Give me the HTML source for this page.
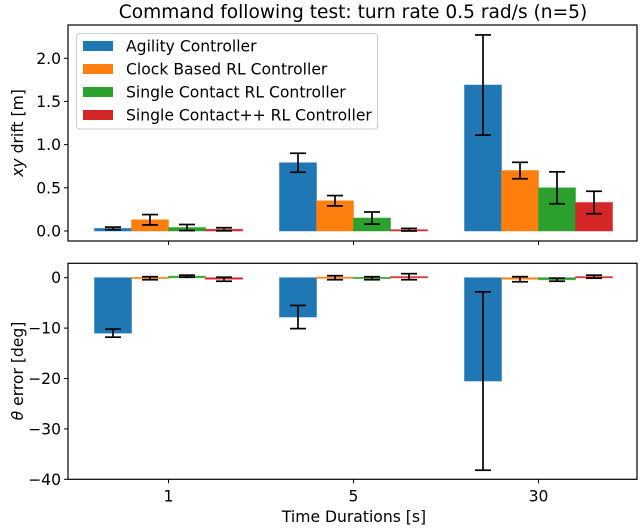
<!DOCTYPE html>
<html><head><meta charset="utf-8"><style>
html,body{margin:0;padding:0;background:#fff;}
svg text{font-family:"DejaVu Sans","Liberation Sans",sans-serif;fill:#000;}
</style></head><body>
<svg id="chart" width="640" height="527" xmlns="http://www.w3.org/2000/svg">
<text x="353" y="18" font-size="18.6" text-anchor="middle">Command following test: turn rate 0.5 rad/s (n=5)</text>
<g id="top"></g>
<g id="bot"></g>
<text x="354" y="522" font-size="15.6" text-anchor="middle">Time Durations [s]</text>
<text transform="translate(23,133) rotate(-90)" font-size="15.6" text-anchor="middle"><tspan font-style="italic">xy</tspan> drift [m]</text>
<text transform="translate(23,371) rotate(-90)" font-size="15.6" text-anchor="middle"><tspan font-style="italic">θ</tspan> error [deg]</text>
</svg>
<script>
const categories = ["1","5","30"];
const seriesNames = ["Agility Controller","Clock Based RL Controller","Single Contact RL Controller","Single Contact++ RL Controller"];
const colors = ["#1f77b4","#ff7f0e","#2ca02c","#d62728"];
const driftAgility = [0.03,0.79,1.69];
const driftClock = [0.13,0.35,0.70];
const driftSingle = [0.04,0.15,0.50];
const driftPlus = [0.02,0.015,0.33];
const driftErrAgility = [0.015,0.11,0.58];
const driftErrClock = [0.06,0.06,0.095];
const driftErrSingle = [0.035,0.07,0.185];
const driftErrPlus = [0.018,0.015,0.13];
const thetaAgility = [-11,-7.8,-20.5];
const thetaClock = [-0.1,0,-0.3];
const thetaSingle = [0.3,-0.1,-0.4];
const thetaPlus = [-0.3,0.2,0.2];
const thetaErrAgility = [0.8,2.3,17.7];
const thetaErrClock = [0.3,0.4,0.5];
const thetaErrSingle = [0.2,0.3,0.3];
const thetaErrPlus = [0.4,0.6,0.3];
const topTicks = [0,0.5,1.0,1.5,2.0];
const botTicks = [0,-10,-20,-30,-40];

const NS="http://www.w3.org/2000/svg";
const L=68,R=637;
const xScale=v=>168.5+v*185;
function mk(parent,tag,attrs){const e=document.createElementNS(NS,tag);for(const k in attrs)e.setAttribute(k,attrs[k]);parent.appendChild(e);return e;}

function panel(g,top,bottom,ymin,ymax,ticks,fmt,vals,errs,showX,prefix){
  const y=v=>bottom-(v-ymin)/(ymax-ymin)*(bottom-top);
  vals.forEach((arr,s)=>{
    arr.forEach((v,i)=>{
      const cx=xScale(i+(s-1.5)*0.2);
      const y0=y(0),y1=y(v);
      let yt=Math.min(y0,y1),h=Math.abs(y1-y0);
      if(h<1.2){yt=(y0+y1)/2-0.6;h=1.2;}
      const r=mk(g,'rect',{x:cx-18.5,y:yt,width:37,height:h,fill:colors[s],stroke:colors[s],'stroke-opacity':0.5,'stroke-width':1});
      
      
      const e=errs[s][i];
      const eg=mk(g,'g',{stroke:'#000','stroke-width':1.7,fill:'none'});
      
      
      mk(eg,'line',{x1:cx,x2:cx,y1:y(v+e),y2:y(v-e)});
      mk(eg,'line',{x1:cx-8,x2:cx+8,y1:y(v+e),y2:y(v+e)});
      mk(eg,'line',{x1:cx-8,x2:cx+8,y1:y(v-e),y2:y(v-e)});
    });
  });
  const fr=mk(g,'rect',{x:L,y:top,width:R-L,height:bottom-top,fill:'none',stroke:'#000','stroke-width':1.2});
  
  
  ticks.forEach(t=>{
    const yy=y(t);
    mk(g,'line',{x1:L-4,x2:L,y1:yy,y2:yy,stroke:'#000','stroke-width':1});
    const tx=mk(g,'text',{x:L-7,y:yy+5.5,'font-size':15.6,'text-anchor':'end'});
    tx.textContent=fmt(t);
    
    
  });
  categories.forEach((c,i)=>{
    const xx=xScale(i);
    mk(g,'line',{x1:xx,x2:xx,y1:bottom,y2:bottom+4,stroke:'#000','stroke-width':1});
    if(showX){
      const tx=mk(g,'text',{x:xx,y:bottom+22,'font-size':15.6,'text-anchor':'middle'});
      tx.textContent=c;
      
      
    }
  });
}
const gt=document.getElementById('top'),gb=document.getElementById('bot');
panel(gt,25,241,-0.116,2.385,topTicks,t=>t.toFixed(1),[driftAgility,driftClock,driftSingle,driftPlus],[driftErrAgility,driftErrClock,driftErrSingle,driftErrPlus],false,'drift');
panel(gb,263.3,479.3,-40,2.86,botTicks,t=>t===0?'0':'\u2212'+Math.abs(t),[thetaAgility,thetaClock,thetaSingle,thetaPlus],[thetaErrAgility,thetaErrClock,thetaErrSingle,thetaErrPlus],true,'theta');

const lg=mk(gt,'g',{});


mk(lg,'rect',{x:76.5,y:33.5,width:301,height:95.5,rx:3,fill:'#fff','fill-opacity':0.8,stroke:'#ccc','stroke-width':1});
seriesNames.forEach((n,s)=>{
  const yy=46+s*23;
  const ent=mk(lg,'g',{});
  
  
  mk(ent,'rect',{x:83,y:yy-5,width:30,height:10,fill:colors[s]});
  const t=mk(ent,'text',{x:126,y:yy+5.5,'font-size':15.6});
  t.textContent=n;
});
</script>
</body></html>
